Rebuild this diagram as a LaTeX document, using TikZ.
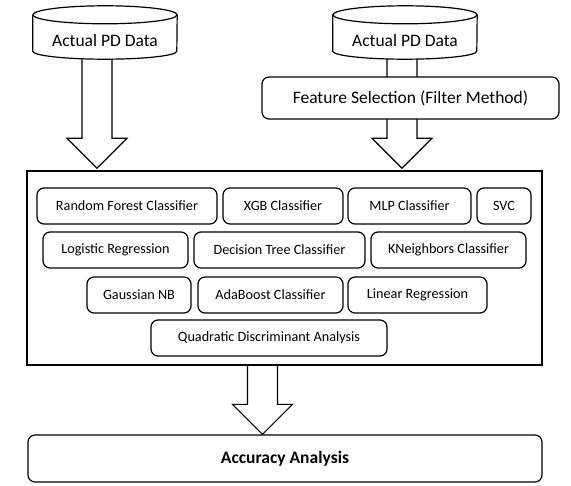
\documentclass[tikz,border=0pt]{standalone}
\usepackage{fontspec}
\setmainfont{Carlito}
\usetikzlibrary{calc}
\pgfdeclarelayer{background}
\pgfsetlayers{background,main}

%% hollow block arrow, #1 = start of shaft, #2 = tip
\newcommand{\fatarrow}[2]{%
\draw[fat] ($(#1)+(-15,0)$) -- ($(#2)+(-15,-30)$) -- ($(#2)+(-30,-30)$) -- (#2)
  -- ($(#2)+(30,-30)$) -- ($(#2)+(15,-30)$) -- ($(#1)+(15,0)$);}
%% database drum drawn round a named node
\newcommand{\drum}[1]{%
\draw[drumline] ($(#1.north west)+(0,-14)$) -- (#1.south west)
  arc[start angle=180, end angle=0, x radius=72, y radius=8] -- ($(#1.north east)+(0,-14)$);
\draw[drumline] ($(#1.north)+(0,-14)$) ellipse[x radius=72, y radius=9];}

\begin{document}
\begin{tikzpicture}[x=1pt, y=-1pt, font=\fontsize{14.2}{16}\selectfont]
%% coordinates follow the pixels of the figure, y grows downwards
\tikzstyle{box}=[draw, rounded corners=7pt, line width=1.2pt, fill=white, inner sep=0pt]
\tikzstyle{method}=[box, minimum height=36pt]
\tikzstyle{stage}=[box, font=\fontsize{17.5}{20}\selectfont]
\tikzstyle{frame}=[draw, line width=1.5pt, inner sep=0pt]
\tikzstyle{fat}=[draw, line width=1.2pt, fill=white, line join=miter]
\tikzstyle{drumline}=[line width=1.2pt, fill=white]
\tikzstyle{data}=[inner sep=0pt, minimum width=144pt, minimum height=22pt, font=\fontsize{17.5}{20}\selectfont]
\useasboundingbox (0,0) rectangle (571,486);
%% inputs
\node[data] at (105,40) (dataA) {};
\node[data] at (405,40) (dataB) {};
\node[stage, minimum width=297pt, minimum height=42pt] at (410.5,98) (filter) {Feature Selection (Filter Method)};
%% the box of classifiers
\node[frame, minimum width=515pt, minimum height=194pt] at (284.5,268) (models) {};
\node[method, minimum width=180pt] at (127,206) (rf) {Random Forest Classifier};
\node[method, minimum width=120pt] at (283,206) (xgb) {XGB Classifier};
\node[method, minimum width=123pt] at (409.5,206) (mlp) {MLP Classifier};
\node[method, minimum width=54pt] at (504,206) (svc) {SVC};
\node[method, minimum width=145pt] at (115.5,250) (logreg) {Logistic Regression};
\node[method, minimum width=171pt] at (279.5,250) (dtree) {Decision Tree Classifier};
\node[method, minimum width=155pt] at (448.5,250) (knn) {KNeighbors Classifier};
\node[method, minimum width=104pt] at (139,295) (gnb) {Gaussian NB};
\node[method, minimum width=145pt] at (270.5,295) (ada) {AdaBoost Classifier};
\node[method, minimum width=139pt] at (417.5,295) (linreg) {Linear Regression};
\node[method, minimum width=236pt] at (269,338) (qda) {Quadratic Discriminant Analysis};
%% result
\node[stage, minimum width=514pt, minimum height=47pt, font=\fontsize{17.5}{20}\selectfont\bfseries] at (285,458.5) (acc) {Accuracy Analysis};
%% block arrows
\begin{pgfonlayer}{background}
\fatarrow{$(dataA.south)+(-8,0)$}{$(dataA.south |- models.north)+(-8,-2)$}
\fatarrow{$(dataB.south)+(-3,0)$}{$(dataB.south |- models.north)+(-3,-2)$}
\fatarrow{$(models.south)+(-22,0)$}{$(models.south |- acc.north)+(-22,0)$}
\end{pgfonlayer}
%% drums on top of the arrow shafts
\drum{dataA}
\drum{dataB}
\node[data] at (dataA.center) {Actual PD Data};
\node[data] at (dataB.center) {Actual PD Data};
\end{tikzpicture}
\end{document}
